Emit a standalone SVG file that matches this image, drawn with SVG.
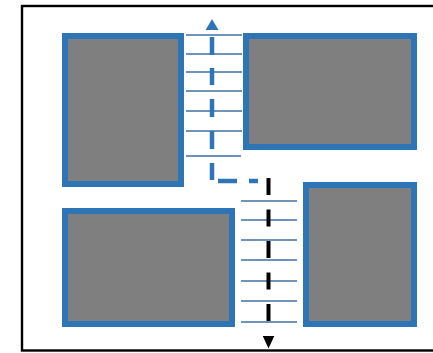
<svg xmlns="http://www.w3.org/2000/svg" width="433" height="353" viewBox="0 0 433 353">
  <style>
    .block { fill: #7f7f7f; stroke: #2e75b6; stroke-width: 6; }
    .rung { stroke: #3f6fa3; stroke-width: 1.3; fill: none; }
    .frame { fill: none; stroke: #000000; stroke-width: 2.4; }
  </style>
  <defs>
    <marker id="headBlue" markerUnits="userSpaceOnUse" viewBox="0 0 11 13" markerWidth="11" markerHeight="13" refX="0" refY="6.5" orient="auto">
      <path d="M0,0 L11,6.5 L0,13 Z" fill="#2e75b6"/>
    </marker>
    <marker id="headBlack" markerUnits="userSpaceOnUse" viewBox="0 0 13 12" markerWidth="13" markerHeight="12" refX="0" refY="6" orient="auto">
      <path d="M0,0 L13,6 L0,12 Z" fill="#000000"/>
    </marker>
  </defs>

  <rect width="433" height="353" fill="#ffffff"/>
  <!-- outer frame, open on the right -->
  <rect class="frame" x="22" y="6" width="430" height="344.5"/>

  <!-- rungs across the upper passage -->
  <g id="upper-rungs">
    <line class="rung" x1="186" y1="35" x2="242" y2="35"/>
    <line class="rung" x1="186" y1="54" x2="242" y2="54"/>
    <line class="rung" x1="186" y1="72" x2="242" y2="72"/>
    <line class="rung" x1="186" y1="91" x2="242" y2="91"/>
    <line class="rung" x1="186" y1="111" x2="242" y2="111"/>
    <line class="rung" x1="186" y1="131" x2="242" y2="131"/>
    <line class="rung" x1="186" y1="156" x2="241" y2="156"/>
  </g>

  <!-- rungs across the lower passage -->
  <g id="lower-rungs">
    <line class="rung" x1="241" y1="201" x2="297" y2="201"/>
    <line class="rung" x1="241" y1="220" x2="297" y2="220"/>
    <line class="rung" x1="241" y1="240" x2="297" y2="240"/>
    <line class="rung" x1="241" y1="260" x2="297" y2="260"/>
    <line class="rung" x1="241" y1="281" x2="297" y2="281"/>
    <line class="rung" x1="241" y1="301" x2="297" y2="301"/>
    <line class="rung" x1="241" y1="322" x2="297" y2="322"/>
  </g>

  <g id="block-top-left"><rect class="block" x="65" y="36" width="116" height="148"/></g>
  <g id="block-top-right"><rect class="block" x="246" y="36" width="168" height="111"/></g>
  <g id="block-bottom-left"><rect class="block" x="65" y="211" width="167" height="113"/></g>
  <g id="block-bottom-right"><rect class="block" x="306" y="185" width="108" height="139"/></g>

  <g id="connectors">
    <path d="M258,181 H212 V30" fill="none" stroke="#2e75b6" stroke-width="4.5"
          stroke-dasharray="9 12 19 7 17 14 18 14 18 14 17 13 18 20" marker-end="url(#headBlue)"/>
    <path d="M268.5,178 V335.5" fill="none" stroke="#000000" stroke-width="4"
          stroke-dasharray="17 14.5" marker-end="url(#headBlack)"/>
  </g>
</svg>
